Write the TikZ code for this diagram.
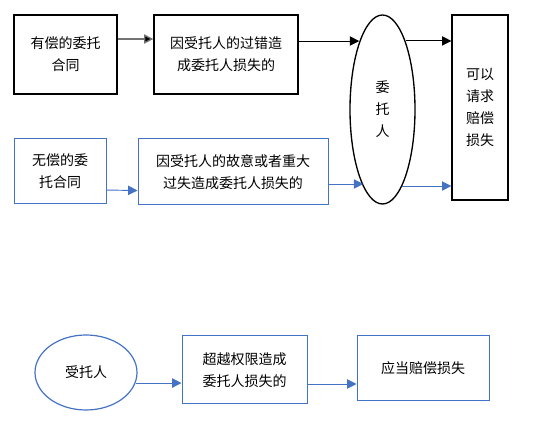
\documentclass[tikz,border=0pt]{standalone}
\usepackage{fontspec}
\newfontfamily\cjk{Noto Sans CJK SC}
\usetikzlibrary{arrows.meta,shapes.geometric}
\definecolor{blu}{HTML}{4472C4}
\begin{document}
\begin{tikzpicture}[x=0.75pt,y=-0.75pt,
  every node/.style={font=\cjk\fontsize{10.5pt}{16.5pt}\selectfont, align=center, inner sep=0pt},
  blackbox/.style={draw=black, line width=1pt, rectangle},
  bluebox/.style={draw=blu, line width=0.75pt, rectangle},
  blackarr/.style={draw=black, line width=0.7pt, -{Triangle[length=7pt,width=7pt]}},
  grayarr/.style={draw=black!55, line width=1pt, -{Triangle[length=7pt,width=7pt,fill=black]}},
  bluearr/.style={draw=blu, line width=0.7pt, -{Triangle[length=7pt,width=7pt]}}
]
\useasboundingbox (0,0) rectangle (536,427);
% top row
\node[blackbox, minimum width=77.25pt, minimum height=59.25pt] (b1) at (65.5,54.5) {有偿的委托\\合同};
\node[blackbox, minimum width=108pt, minimum height=59.25pt] (b2) at (226,54.5) {因受托人的过错造\\成委托人损失的};
\node[draw=black, line width=1pt, ellipse, minimum width=48.75pt, minimum height=141.75pt] (ell) at (382.5,109.5) {委\\托\\人};
\node[blackbox, minimum width=42pt, minimum height=138.75pt] (rb) at (480,107.5) {可以\\请求\\赔偿\\损失};
% blue row
\node[bluebox, minimum width=69pt, minimum height=48.75pt] (u1) at (60,171.5) {无偿的委\\托合同};
\node[bluebox, minimum width=142.5pt, minimum height=49.5pt] (u2) at (233,172) {因受托人的故意或者重大\\过失造成委托人损失的};
% bottom
\node[draw=blu, line width=0.9pt, ellipse, minimum width=76.5pt, minimum height=56.25pt] (e2) at (86,372.5) {受托人};
\node[bluebox, minimum width=93.75pt, minimum height=51pt] (b3) at (244.5,370) {超越权限造成\\委托人损失的};
\node[bluebox, minimum width=99pt, minimum height=48.75pt] (b4) at (423,368.5) {应当赔偿损失};
% arrows top
\draw[grayarr] ([yshift=11.6pt]b1.east) -- ([yshift=11.6pt]b2.west);
\coordinate (a2) at ([yshift=10.1pt]b2.east);
\draw[blackarr] (a2) -- (a2 -| ell.109);
\coordinate (a3) at ([yshift=49.9pt]rb.west);
\draw[blackarr] (a3 -| ell.71) -- (a3);
% arrows blue
\draw[bluearr] ([yshift=-13.9pt]u1.east) -- ([yshift=-13.9pt]u2.west);
\coordinate (a5) at ([yshift=-9pt]u2.east);
\draw[bluearr] (a5) -- (a5 -| ell.256);
\coordinate (a6) at ([yshift=-58.9pt]rb.west);
\draw[bluearr] (a6 -| ell.284) -- (a6);
% arrows bottom
\coordinate (a7) at (e2.-12);
\draw[bluearr] (a7) -- (a7 -| b3.west);
\draw[bluearr] ([yshift=-10.5pt]b3.east) -- ([yshift=-10.5pt]b3.east -| b4.west);
\end{tikzpicture}
\end{document}
